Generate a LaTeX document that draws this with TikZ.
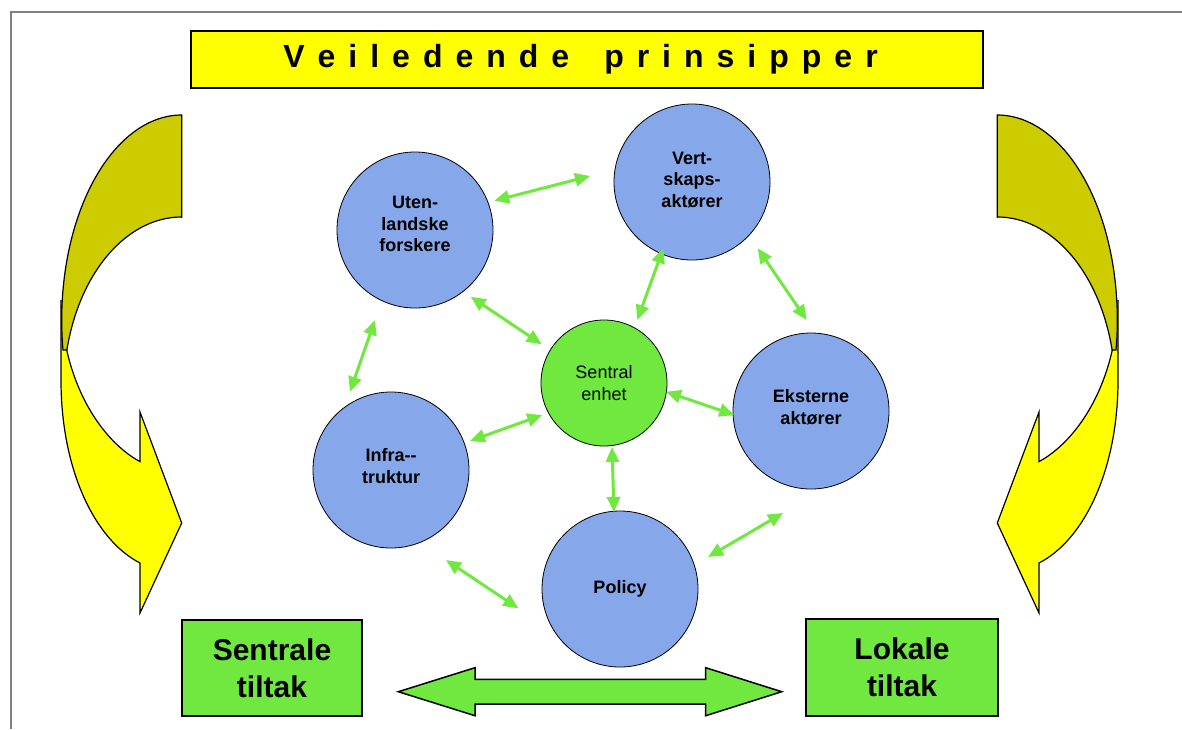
\documentclass[tikz,border=0pt]{standalone}
\usepackage{fontspec}
\setmainfont{Liberation Sans}
\usetikzlibrary{arrows.meta,calc}
\definecolor{yel}{RGB}{255,255,0}
\definecolor{dyel}{RGB}{204,204,0}
\definecolor{grn}{RGB}{112,232,64}
\definecolor{blu}{RGB}{134,168,234}
\definecolor{framegray}{RGB}{128,128,128}
\newcommand\bentarrowshape{%
  \filldraw[fill=yel, draw=black, line width=1.2pt, line join=miter]
    (61,300) -- (61,380) .. controls (61,470) and (95,540) .. (140,563)
    -- (140,613) -- (181.7,523) -- (140,412) -- (140,461.6)
    .. controls (100,440) and (62,380) .. (61,300) -- cycle;
  \filldraw[fill=dyel, draw=black, line width=1.2pt]
    (181.7,217) -- (181.7,115) arc[start angle=270, end angle=171.6, x radius=120, y radius=205]
    -- (66.9,349.9) arc[start angle=193.4, end angle=270, x radius=118, y radius=173] -- cycle;
}
\newcommand\gap{\kern13pt}
\begin{document}
\begin{tikzpicture}[x=1pt,y=-1pt,
  actor/.style={circle, draw=black, line width=0.8pt, fill=blu, minimum size=156pt, inner sep=0pt},
  hub/.style={circle, draw=black, line width=0.8pt, fill=grn, minimum size=126pt, inner sep=0pt},
  actortext/.style={align=center, inner sep=0pt, font=\fontsize{18}{21.7}\selectfont\bfseries},
  hubtext/.style={align=center, inner sep=0pt, font=\fontsize{18}{21.7}\selectfont},
  link/.style={draw=grn, line width=3pt, {Triangle[length=15pt,width=13pt]}-{Triangle[length=15pt,width=13pt]}},
  tiltak/.style={draw=black, line width=1.5pt, fill=grn, inner sep=0pt, align=center, font=\fontsize{30}{37}\selectfont\bfseries},
  banner/.style={draw=black, line width=1.5pt, fill=yel, inner sep=0pt, font=\fontsize{32}{32}\selectfont\bfseries}]
\useasboundingbox (0,0) rectangle (1182,729);
\fill[white] (0,0) rectangle (1182,729);
\draw[framegray, line width=1.5pt] (11,729) -- (11,12) -- (1182,12);

\node[banner, minimum width=792pt, minimum height=57pt] (title) at (587,59.5)
  {V\gap e\gap i\gap l\gap e\gap d\gap e\gap n\gap d\gap e\kern35pt p\gap r\gap i\gap n\gap s\gap i\gap p\gap p\gap e\gap r\gap};

\bentarrowshape
\begin{scope}[xshift=1179pt, xscale=-1]
\bentarrowshape
\end{scope}

\node[actor] (uten) at (415,230) {};
\node[actor] (vert) at (692,182) {};
\node[actor] (ekst) at (811,411) {};
\node[actor] (infra) at (391,470) {};
\node[actor] (policy) at (620,589) {};
\node[hub] (sentral) at (604,383) {};
\node[actortext] (uten-t) at ($(uten)+(0,-6)$) {Uten-\\landske\\forskere};
\node[actortext] (vert-t) at ($(vert)+(0,-2)$) {Vert-\\skaps-\\aktører};
\node[actortext] (ekst-t) at ($(ekst)+(0,-3.5)$) {Eksterne\\aktører};
\node[actortext] (infra-t) at ($(infra)+(0,-4)$) {Infra-{}-\\truktur};
\node[actortext] (policy-t) at (policy) {Policy};
\node[hubtext] (sentral-t) at (sentral) {Sentral\\enhet};

\coordinate (a1) at (494.3,200.7); \coordinate (b1) at (590,176);
\coordinate (a2) at (470.7,296.7); \coordinate (b2) at (541.7,344.3);
\coordinate (a3) at (663.3,248.3); \coordinate (b3) at (637.3,320);
\coordinate (a4) at (757.7,248.3); \coordinate (b4) at (806.7,320);
\coordinate (a5) at (666,391.7);   \coordinate (b5) at (734.3,415);
\coordinate (a6) at (470,441);     \coordinate (b6) at (542.3,415);
\coordinate (a7) at (375,320);     \coordinate (b7) at (350,391.7);
\coordinate (a8) at (446,560);     \coordinate (b8) at (518.3,608.3);
\coordinate (a9) at (612,447);     \coordinate (b9) at (614,512);
\coordinate (a10) at (708,557);    \coordinate (b10) at (783,513);
\foreach \i in {1,...,10} \draw[link] (a\i) -- (b\i);

\node[tiltak, minimum width=180pt, minimum height=96pt] (sent) at (272,668) {Sentrale\\tiltak};
\node[tiltak, minimum width=192pt, minimum height=97pt] (lok) at (902,667.5) {Lokale\\tiltak};

\filldraw[fill=grn, draw=black, line width=1.5pt, line join=miter]
  (398.3,691.7) -- (475,667.7) -- (475,679.3) -- (705.7,679.3) -- (705.7,667.7)
  -- (781.7,691.7) -- (705.7,715.7) -- (705.7,704) -- (475,704) -- (475,715.7) -- cycle;
\end{tikzpicture}
\end{document}
